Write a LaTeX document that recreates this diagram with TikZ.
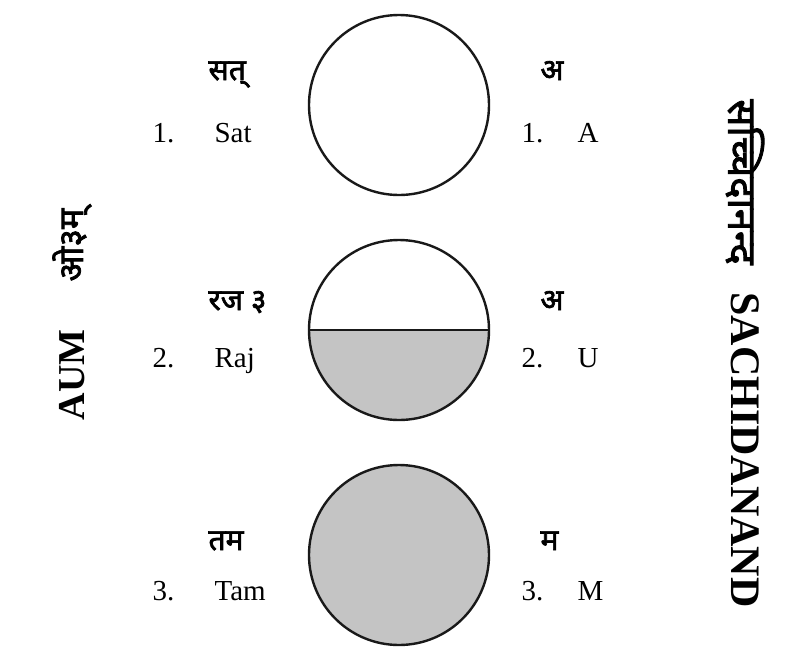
\documentclass[tikz,border=0pt]{standalone}
\usepackage{fontspec}
\setmainfont{Liberation Serif}
\newfontfamily\deva[Script=Devanagari,FakeBold=2.2]{Noto Sans}
\definecolor{halftone}{HTML}{C4C4C4}
\tikzset{
  x=1pt, y=-1pt,
  guna/.style={draw=black!90, line width=2.4pt},
  num/.style={anchor=base west, font=\fontsize{29}{30}\selectfont},
  hin/.style={anchor=base west, font=\deva\fontsize{30}{32}\selectfont},
  sidelbl/.style={font=\bfseries\fontsize{#1}{#1}\selectfont},
  sidehin/.style={font=\deva\fontsize{#1}{#1}\selectfont}
}
\begin{document}
\begin{tikzpicture}
\useasboundingbox (0,0) rectangle (790,657);

% the three circles
\node[guna, circle, minimum size=180pt, inner sep=0pt, fill=white] (c1) at (399,105) {};
\fill[halftone] (309,330) arc[start angle=180, end angle=360, radius=90pt] -- cycle;
\node[guna, circle, minimum size=180pt, inner sep=0pt] (c2) at (399,330) {};
\draw[guna] (c2.west) -- (c2.east);
\node[guna, circle, minimum size=180pt, inner sep=0pt, fill=halftone] (c3) at (399,555) {};

% left column
\node[hin] (h1) at (205,80) {सत्};
\node[num] (n1) at (149,142) {1.};
\node[num] (s1) at (211,142) {Sat};
\node[hin] (h2) at (205,310) {रज ३};
\node[num] (n2) at (149,367) {2.};
\node[num] (s2) at (211,367) {Raj};
\node[hin] (h3) at (205,550) {तम};
\node[num] (n3) at (149,600) {3.};
\node[num] (s3) at (211,600) {Tam};

% right column
\node[hin] (r1) at (537,80) {अ};
\node[num] (m1) at (518,142) {1.};
\node[num] (a1) at (574,142) {A};
\node[hin] (r2) at (537,310) {अ};
\node[num] (m2) at (518,367) {2.};
\node[num] (a2) at (574,367) {U};
\node[hin] (r3) at (537,550) {म};
\node[num] (m3) at (518,600) {3.};
\node[num] (a3) at (574,600) {M};

% vertical titles
\node[sidehin=34, rotate=90] (om) at (72,245) {ओ३म्};
\node[sidelbl=38, rotate=90] (aum) at (72,375) {AUM};
\node[sidehin=40, rotate=-90] (sh) at (745,182) {सच्चिदानन्द};
\node[sidelbl=42, rotate=-90] (sa) at (745,450) {SACHIDANAND};
\end{tikzpicture}
\end{document}
